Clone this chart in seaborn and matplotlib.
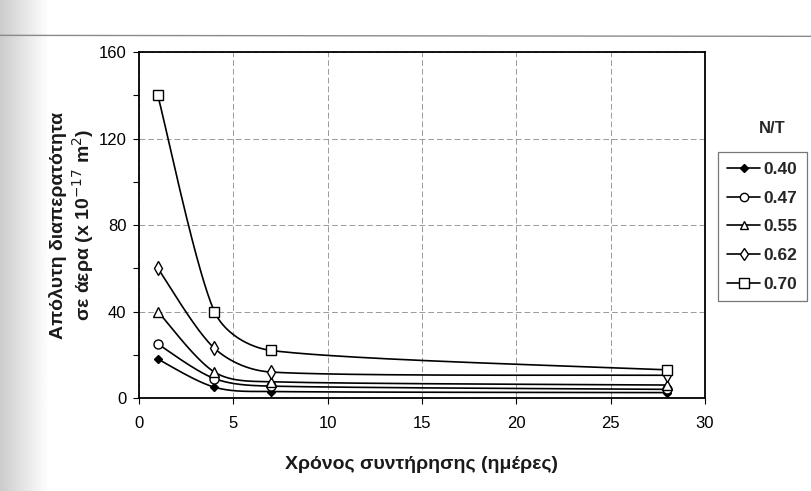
import numpy as np
import pandas as pd
import matplotlib
matplotlib.use("Agg")
import matplotlib.pyplot as plt
from matplotlib.lines import Line2D
import seaborn as sns

# Curing time (days) and air permeability per w/c ratio
days = [1, 4, 7, 28]
ratios = ["0.40", "0.47", "0.55", "0.62", "0.70"]
perm_040 = [18, 5, 3, 2.5]
perm_047 = [25, 9, 5.5, 4]
perm_055 = [40, 12, 7.5, 6]
perm_062 = [60, 23, 12, 10.5]
perm_070 = [140, 40, 22, 13]
series = [perm_040, perm_047, perm_055, perm_062, perm_070]

x_ticks = [0, 5, 10, 15, 20, 25, 30]
y_ticks = [0, 40, 80, 120, 160]

markers = {"0.40": "D", "0.47": "o", "0.55": "^", "0.62": "d", "0.70": "s"}
marker_size = {"0.40": 4.5, "0.47": 6.5, "0.55": 6.5, "0.62": 7, "0.70": 7}
marker_face = {"0.40": "black", "0.47": "white", "0.55": "white", "0.62": "white", "0.70": "white"}

sns.set_theme(style="white")
plt.rcParams["font.family"] = ["Liberation Sans", "DejaVu Sans"]

XSPAN, YSPAN = 565.0 / 30.0, 348.0 / 160.0


def smooth(xs, ys, n=60):
    """Smooth Bezier curve through the points.  Tangent direction comes from
    the neighbours; handle length is the Catmull-Rom length, capped at a third
    of the segment so short segments never loop back."""
    P = np.column_stack([np.array(xs, float) * XSPAN, np.array(ys, float) * YSPAN])
    m = len(P)
    tang, hlen = np.zeros_like(P), np.zeros(m)
    for i in range(m):
        d = P[min(i + 1, m - 1)] - P[max(i - 1, 0)]
        tang[i] = d / np.linalg.norm(d)
        hlen[i] = np.linalg.norm(d) / 6.0
    out = []
    for i in range(m - 1):
        p1, p2 = P[i], P[i + 1]
        cap = np.linalg.norm(p2 - p1) / 3.0
        c1 = p1 + tang[i] * min(hlen[i], cap)
        c2 = p2 - tang[i + 1] * min(hlen[i + 1], cap)
        t = np.linspace(0, 1, n)[:, None]
        seg = ((1 - t) ** 3) * p1 + 3 * ((1 - t) ** 2) * t * c1 + 3 * (1 - t) * t ** 2 * c2 + t ** 3 * p2
        out.append(seg if i == 0 else seg[1:])
    out = np.vstack(out)
    return out[:, 0] / XSPAN, out[:, 1] / YSPAN


curve_rows, point_rows = [], []
for r, vals in zip(ratios, series):
    sx, sy = smooth(days, vals)
    curve_rows += [{"t": a, "k": b, "N/T": r} for a, b in zip(sx, sy)]
    point_rows += [{"t": a, "k": b, "N/T": r} for a, b in zip(days, vals)]
curves = pd.DataFrame(curve_rows)
points = pd.DataFrame(point_rows)

fig = plt.figure(figsize=(8.11, 4.91), dpi=100)
fig.patch.set_facecolor("white")

# scanned-page shading along the left edge and the rule near the top
shade = fig.add_axes([0, 0, 0.06, 1], zorder=-5)
grad = np.linspace(0.80, 1.0, 64)[None, :]
shade.imshow(grad, aspect="auto", cmap="gray", vmin=0, vmax=1, extent=[0, 1, 0, 1])
shade.axis("off")
fig.add_artist(Line2D([0.0, 1.0], [0.928, 0.926], color="#8a8a8a", lw=1.0))

ax = fig.add_axes([0.1713, 0.1894, 0.6979, 0.7046])

sns.lineplot(data=curves, x="t", y="k", hue="N/T", palette=["black"] * 5,
             sort=False, estimator=None, lw=1.2, legend=False, ax=ax)
for r in ratios:
    sub = points[points["N/T"] == r]
    ax.plot(sub["t"], sub["k"], ls="none", marker=markers[r], ms=marker_size[r],
            mfc=marker_face[r], mec="black", mew=1.0, zorder=5)

ax.set_xlim(0, 30)
ax.set_ylim(0, 160)
ax.set_xticks(x_ticks)
ax.set_yticks(y_ticks)
ax.set_yticks(np.arange(0, 161, 20), minor=True)
ax.tick_params(axis="both", which="both", direction="out", length=4, width=0.8,
               labelsize=12, colors="black", bottom=True, left=True)
ax.tick_params(axis="x", pad=9)
ax.tick_params(axis="y", pad=5)
ax.grid(True, which="major", color="#9a9a9a", ls=(0, (6, 3)), lw=0.7)
for s in ax.spines.values():
    s.set_color("black")
    s.set_linewidth(1.3)

ax.set_xlabel("Χρόνος συντήρησης (ημέρες)", fontsize=14, fontweight="bold",
              labelpad=18, color="#1a1a1a")
ax.set_ylabel("Απόλυτη διαπερατότητα\nσε άερα (x 10$^{-17}$ m$^2$)", fontsize=14,
              fontweight="bold", labelpad=2, linespacing=1.15, color="#1a1a1a")

handles = [Line2D([], [], color="black", lw=1.2, marker=markers[r], ms=marker_size[r] - 0.5,
                  mfc=marker_face[r], mec="black") for r in ratios]
leg = fig.legend(handles, ratios, loc="upper left", bbox_to_anchor=(0.885, 0.69),
                 frameon=True, fancybox=False, handlelength=1.9, handletextpad=0.2,
                 labelspacing=0.78, borderpad=0.55, borderaxespad=0.0,
                 prop={"weight": "bold", "size": 12.5})
leg.get_frame().set_edgecolor("#555555")
leg.get_frame().set_linewidth(0.9)
fig.text(0.952, 0.739, "N/T", fontsize=12, fontweight="bold", ha="center", va="center")

fig.savefig("out.png", dpi=100)
